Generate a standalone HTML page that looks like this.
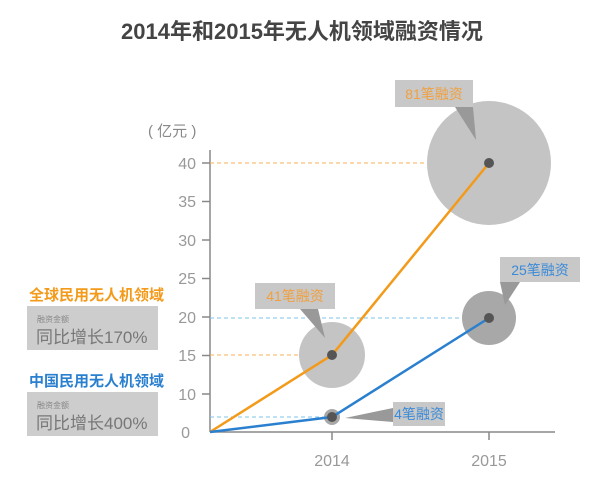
<!DOCTYPE html>
<html><head><meta charset="utf-8"><style>
body{margin:0;background:#fff;width:605px;height:482px;overflow:hidden;font-family:"Liberation Sans","Noto Sans CJK SC",sans-serif}
</style></head><body>
<svg width="605" height="482" xmlns="http://www.w3.org/2000/svg" font-family="Liberation Sans, Noto Sans CJK SC, sans-serif">
<text x="302" y="39" text-anchor="middle" font-size="22" font-weight="bold" fill="#444">2014年和2015年无人机领域融资情况</text>
<text x="148" y="136" font-size="15" fill="#888">( 亿元 )</text>
<line x1="210" y1="150" x2="210" y2="432" stroke="#888" stroke-width="1.5"/>
<line x1="210" y1="432" x2="555" y2="432" stroke="#888" stroke-width="1.5"/>
<line x1="332" y1="432" x2="332" y2="440" stroke="#888" stroke-width="1.5"/>
<line x1="489" y1="432" x2="489" y2="440" stroke="#888" stroke-width="1.5"/>
<g stroke="#888" stroke-width="1.5">
<line x1="202" y1="163" x2="210" y2="163"/><line x1="202" y1="201.5" x2="210" y2="201.5"/><line x1="202" y1="240" x2="210" y2="240"/><line x1="202" y1="278.5" x2="210" y2="278.5"/><line x1="202" y1="317" x2="210" y2="317"/><line x1="202" y1="355.5" x2="210" y2="355.5"/><line x1="202" y1="394" x2="210" y2="394"/>
</g>
<g font-size="16" fill="#999" text-anchor="end">
<text x="196" y="169">40</text><text x="196" y="207">35</text><text x="196" y="246">30</text><text x="196" y="284">25</text><text x="196" y="323">20</text><text x="196" y="361">15</text><text x="196" y="400">10</text><text x="190" y="438">0</text>
</g>
<text x="332" y="466" font-size="16" fill="#999" text-anchor="middle">2014</text>
<text x="489" y="466" font-size="16" fill="#999" text-anchor="middle">2015</text>
<g stroke-dasharray="4,3" stroke-width="1">
<line x1="210" y1="163" x2="489" y2="163" stroke="#f5b055"/>
<line x1="210" y1="355" x2="332" y2="355" stroke="#f5b055"/>
<line x1="210" y1="318" x2="489" y2="318" stroke="#7cc4ea"/>
<line x1="210" y1="417" x2="332" y2="417" stroke="#7cc4ea"/>
</g>
<circle cx="489" cy="163" r="62" fill="#c4c4c4"/>
<circle cx="332" cy="355" r="33" fill="#c4c4c4"/>
<circle cx="489" cy="318" r="27" fill="#a8a8a8"/>
<circle cx="332" cy="417" r="8" fill="#a8a8a8"/>
<polyline points="210,432 332,355 489,163" fill="none" stroke="#f39a1a" stroke-width="2.5"/>
<polyline points="210,432 332,417 489,318" fill="none" stroke="#2a80cf" stroke-width="2.5"/>
<circle cx="489" cy="163" r="5" fill="#555"/><circle cx="332" cy="355" r="5" fill="#555"/>
<circle cx="489" cy="318" r="5" fill="#555"/><circle cx="332" cy="417" r="5" fill="#555"/>
<polygon points="455,107 473,107 476,140" fill="#999"/>
<rect x="395" y="80" width="78" height="27" fill="#c8c8c8"/>
<text x="434" y="99" font-size="14" fill="#f0a040" text-anchor="middle">81笔融资</text>
<polygon points="300,309 318,309 325,338" fill="#999"/>
<rect x="255" y="283" width="80" height="26" fill="#c8c8c8"/>
<text x="295" y="301" font-size="14" fill="#f0a040" text-anchor="middle">41笔融资</text>
<polygon points="500,282 520,282 505,305" fill="#999"/>
<rect x="500" y="257" width="80" height="25" fill="#c8c8c8"/>
<text x="540" y="275" font-size="14" fill="#3a8ad8" text-anchor="middle">25笔融资</text>
<polygon points="393,408 393,422 345,418" fill="#999"/>
<rect x="393" y="402" width="52" height="24" fill="#c8c8c8"/>
<text x="419" y="419" font-size="14" fill="#3a8ad8" text-anchor="middle">4笔融资</text>
<text x="29" y="300" font-size="15" font-weight="bold" fill="#f39a1a">全球民用无人机领域</text>
<rect x="27" y="306" width="131" height="44" fill="#cdcdcd"/>
<text x="37" y="322" font-size="8" fill="#888">融资金额</text>
<text x="36" y="343" font-size="17" fill="#777">同比增长170%</text>
<text x="29" y="386" font-size="15" font-weight="bold" fill="#2a80cf">中国民用无人机领域</text>
<rect x="27" y="392" width="131" height="44" fill="#cdcdcd"/>
<text x="37" y="408" font-size="8" fill="#888">融资金额</text>
<text x="36" y="429" font-size="17" fill="#777">同比增长400%</text>
</svg>
</body></html>
